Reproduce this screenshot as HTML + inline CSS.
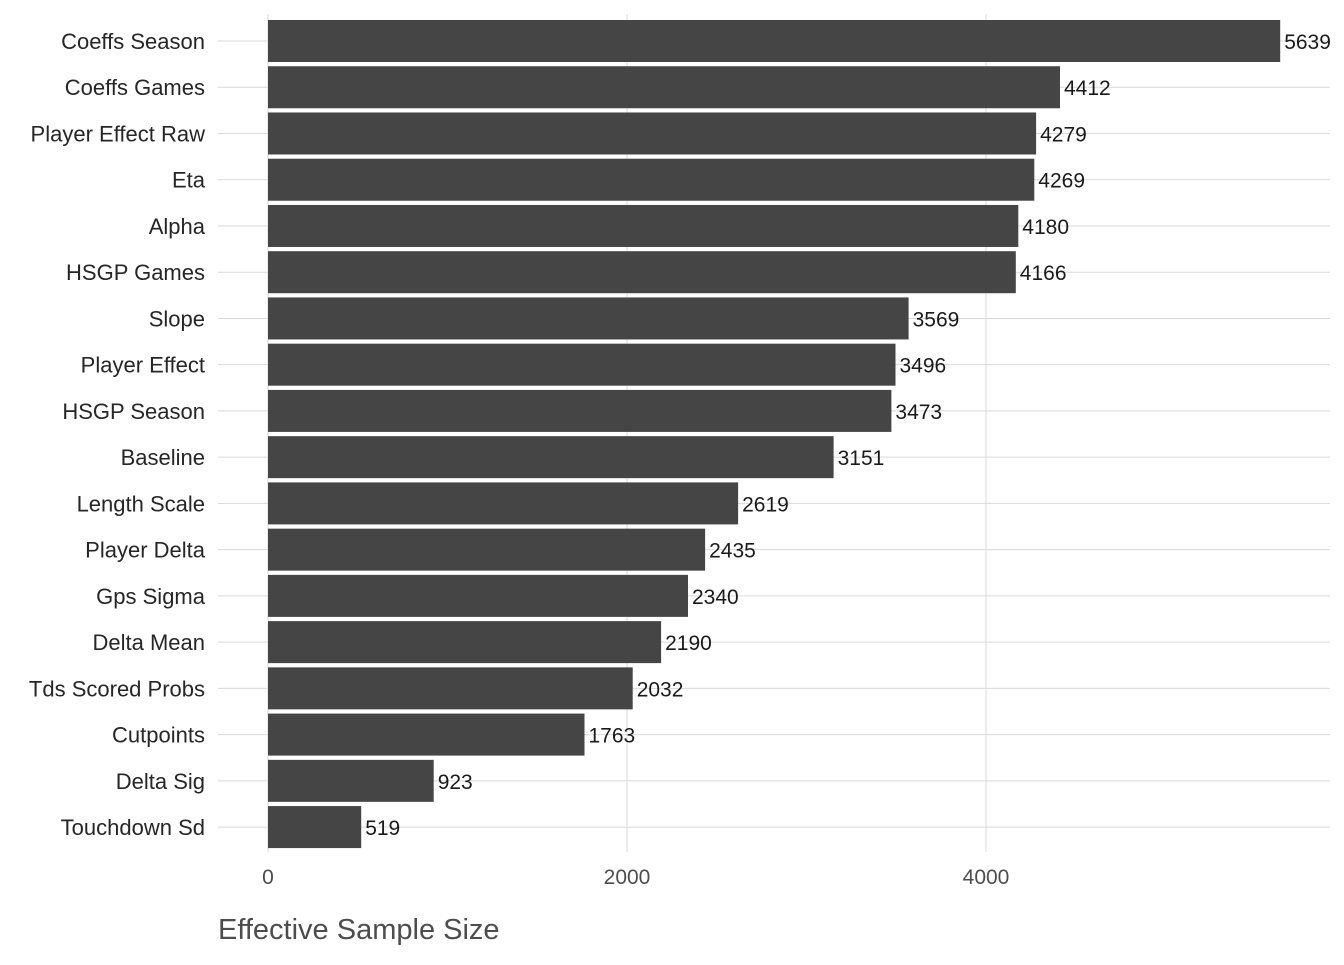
<!DOCTYPE html>
<html><head><meta charset="utf-8"><style>
body{margin:0;background:#fff;}
svg text{font-family:"Liberation Sans",sans-serif;}
</style></head><body>
<svg width="1344" height="960" xmlns="http://www.w3.org/2000/svg">
<g stroke="#d9d9d9" stroke-width="1">
<line x1="268" y1="14" x2="268" y2="852"/>
<line x1="627" y1="14" x2="627" y2="852"/>
<line x1="986" y1="14" x2="986" y2="852"/>
<line x1="218" x2="1330" y1="41" y2="41"/>
<line x1="218" x2="1330" y1="87.24" y2="87.24"/>
<line x1="218" x2="1330" y1="133.48" y2="133.48"/>
<line x1="218" x2="1330" y1="179.72" y2="179.72"/>
<line x1="218" x2="1330" y1="225.96" y2="225.96"/>
<line x1="218" x2="1330" y1="272.2" y2="272.2"/>
<line x1="218" x2="1330" y1="318.44" y2="318.44"/>
<line x1="218" x2="1330" y1="364.68" y2="364.68"/>
<line x1="218" x2="1330" y1="410.92" y2="410.92"/>
<line x1="218" x2="1330" y1="457.16" y2="457.16"/>
<line x1="218" x2="1330" y1="503.4" y2="503.4"/>
<line x1="218" x2="1330" y1="549.64" y2="549.64"/>
<line x1="218" x2="1330" y1="595.88" y2="595.88"/>
<line x1="218" x2="1330" y1="642.12" y2="642.12"/>
<line x1="218" x2="1330" y1="688.36" y2="688.36"/>
<line x1="218" x2="1330" y1="734.6" y2="734.6"/>
<line x1="218" x2="1330" y1="780.84" y2="780.84"/>
<line x1="218" x2="1330" y1="827.08" y2="827.08"/>
</g>
<g fill="#454545">
<rect x="268" y="20" width="1012.2" height="42"/>
<rect x="268" y="66.24" width="792.0" height="42"/>
<rect x="268" y="112.48" width="768.1" height="42"/>
<rect x="268" y="158.72" width="766.3" height="42"/>
<rect x="268" y="204.96" width="750.3" height="42"/>
<rect x="268" y="251.2" width="747.8" height="42"/>
<rect x="268" y="297.44" width="640.6" height="42"/>
<rect x="268" y="343.68" width="627.5" height="42"/>
<rect x="268" y="389.92" width="623.4" height="42"/>
<rect x="268" y="436.16" width="565.6" height="42"/>
<rect x="268" y="482.4" width="470.1" height="42"/>
<rect x="268" y="528.64" width="437.1" height="42"/>
<rect x="268" y="574.88" width="420.0" height="42"/>
<rect x="268" y="621.12" width="393.1" height="42"/>
<rect x="268" y="667.36" width="364.7" height="42"/>
<rect x="268" y="713.6" width="316.5" height="42"/>
<rect x="268" y="759.84" width="165.7" height="42"/>
<rect x="268" y="806.08" width="93.2" height="42"/>
</g>
<g font-size="22" fill="#262626" text-anchor="end">
<text x="205" y="49">Coeffs Season</text>
<text x="205" y="95.24">Coeffs Games</text>
<text x="205" y="141.48">Player Effect Raw</text>
<text x="205" y="187.72">Eta</text>
<text x="205" y="233.96">Alpha</text>
<text x="205" y="280.2">HSGP Games</text>
<text x="205" y="326.44">Slope</text>
<text x="205" y="372.68">Player Effect</text>
<text x="205" y="418.92">HSGP Season</text>
<text x="205" y="465.16">Baseline</text>
<text x="205" y="511.4">Length Scale</text>
<text x="205" y="557.64">Player Delta</text>
<text x="205" y="603.88">Gps Sigma</text>
<text x="205" y="650.12">Delta Mean</text>
<text x="205" y="696.36">Tds Scored Probs</text>
<text x="205" y="742.6">Cutpoints</text>
<text x="205" y="788.84">Delta Sig</text>
<text x="205" y="835.08">Touchdown Sd</text>
</g>
<g font-size="21" fill="#1a1a1a">
<text x="1284.2" y="49">5639</text>
<text x="1064" y="95.24">4412</text>
<text x="1040.1" y="141.48">4279</text>
<text x="1038.3" y="187.72">4269</text>
<text x="1022.3" y="233.96">4180</text>
<text x="1019.8" y="280.2">4166</text>
<text x="912.6" y="326.44">3569</text>
<text x="899.5" y="372.68">3496</text>
<text x="895.4" y="418.92">3473</text>
<text x="837.6" y="465.16">3151</text>
<text x="742.1" y="511.4">2619</text>
<text x="709.1" y="557.64">2435</text>
<text x="692" y="603.88">2340</text>
<text x="665.1" y="650.12">2190</text>
<text x="636.7" y="696.36">2032</text>
<text x="588.5" y="742.6">1763</text>
<text x="437.7" y="788.84">923</text>
<text x="365.2" y="835.08">519</text>
</g>
<g font-size="21" fill="#4d4d4d" text-anchor="middle">
<text x="268" y="884">0</text>
<text x="627" y="884">2000</text>
<text x="986" y="884">4000</text>
</g>
<text x="218" y="939" font-size="29" fill="#4d4d4d">Effective Sample Size</text>
</svg>
</body></html>
